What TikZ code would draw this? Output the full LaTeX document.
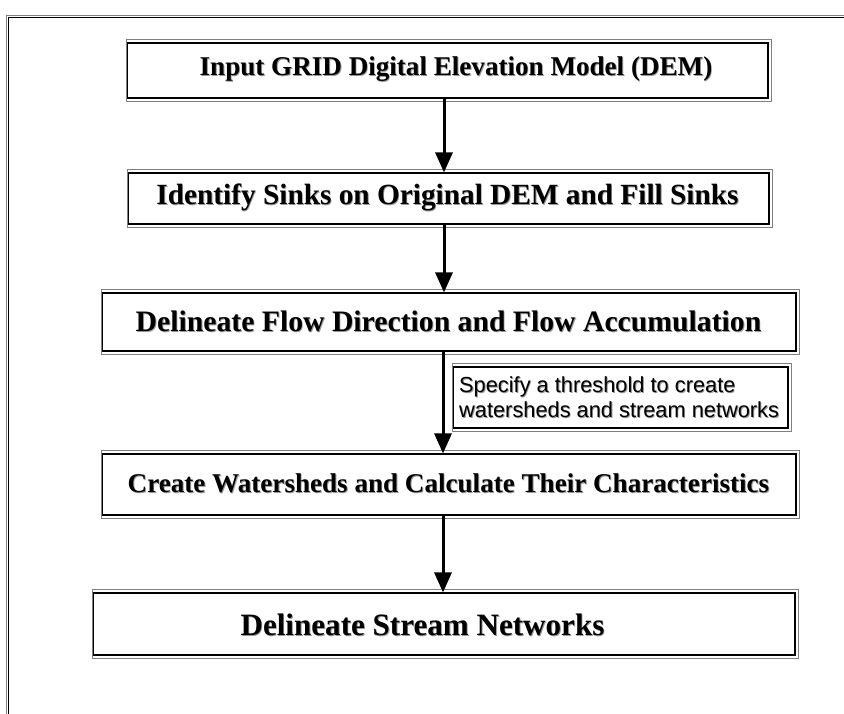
\documentclass[tikz,border=0pt]{standalone}
\usepackage{fontspec}
\setmainfont{Liberation Serif}
\setsansfont{Liberation Sans}
\usetikzlibrary{arrows.meta}
% text with a faint offset copy behind it
\newcommand\ghosted[1]{\makebox[0pt][l]{\kern0.9pt\raisebox{-0.9pt}{\textcolor{black!40}{#1}}}#1}
\begin{document}
\begin{tikzpicture}[x=1pt,y=-1pt,
  edgeline/.style={draw=black, line width=1.1pt},
  halo/.style={draw=black!50, line width=0.8pt},
  framebox/.style={edgeline, fill=white, inner sep=0pt},
  steptext/.style={inner sep=0pt, font=\bfseries\fontsize{#1}{#1}\selectfont},
  notetext/.style={inner sep=0pt, align=left, font=\sffamily\fontsize{21.8}{25}\selectfont},
  flow/.style={line width=3pt, -{Triangle[width=17pt,length=20pt]}},
]
\useasboundingbox (0,0) rectangle (844,713);
\fill[white] (0,0) rectangle (844,713);
% outer frame
\draw[halo] (6.5,714) -- (6.5,15) -- (846,15);
\draw[edgeline] (8.5,714) -- (8.5,17.5) -- (846,17.5);

% process boxes
\node[framebox, minimum width=641pt, minimum height=55pt] (n1) at (447.5,70.5) {};
\node[framebox, minimum width=641pt, minimum height=51pt] (n2) at (448.5,198.5) {};
\node[framebox, minimum width=694pt, minimum height=58pt] (n3) at (449,322) {};
\node[framebox, minimum width=335pt, minimum height=61pt] (note) at (620.5,397.5) {};
\node[framebox, minimum width=694pt, minimum height=61pt] (n4) at (449,484.5) {};
\node[framebox, minimum width=702pt, minimum height=62pt] (n5) at (444,624) {};

% second outline round each box
\foreach \b in {n1,n2,n3,note,n4,n5}
  \draw[halo] ([shift={(-0.5pt,2.6pt)}]\b.north west) rectangle ([shift={(2.4pt,-2.6pt)}]\b.south east);

% box labels
\node[steptext=27.1] (t1) at (456,70) {\ghosted{Input GRID Digital Elevation Model (DEM)}};
\node[steptext=29.3] (t2) at (447.5,198) {\ghosted{Identify Sinks on Original DEM and Fill Sinks}};
\node[steptext=29.7] (t3) at (448.5,322) {\ghosted{Delineate Flow Direction and Flow Accumulation}};
\node[steptext=27.1] (t4) at (448.5,484) {\ghosted{Create Watersheds and Calculate Their Characteristics}};
\node[steptext=31.1] (t5) at (422.5,625) {\ghosted{Delineate Stream Networks}};
\node[notetext, anchor=west] (t6) at (459,397.5)
  {\ghosted{Specify a threshold to create}\\\ghosted{watersheds and stream networks}};

% connectors
\coordinate (ax) at (444,0);
\coordinate (bx) at (443,0);
\draw[flow] (n1.south -| ax) -- (n2.north -| ax);
\draw[flow] (n2.south -| ax) -- (n3.north -| ax);
\draw[flow] (n3.south -| bx) -- (n4.north -| bx);
\draw[flow] (n4.south -| bx) -- (n5.north -| bx);
\end{tikzpicture}
\end{document}
